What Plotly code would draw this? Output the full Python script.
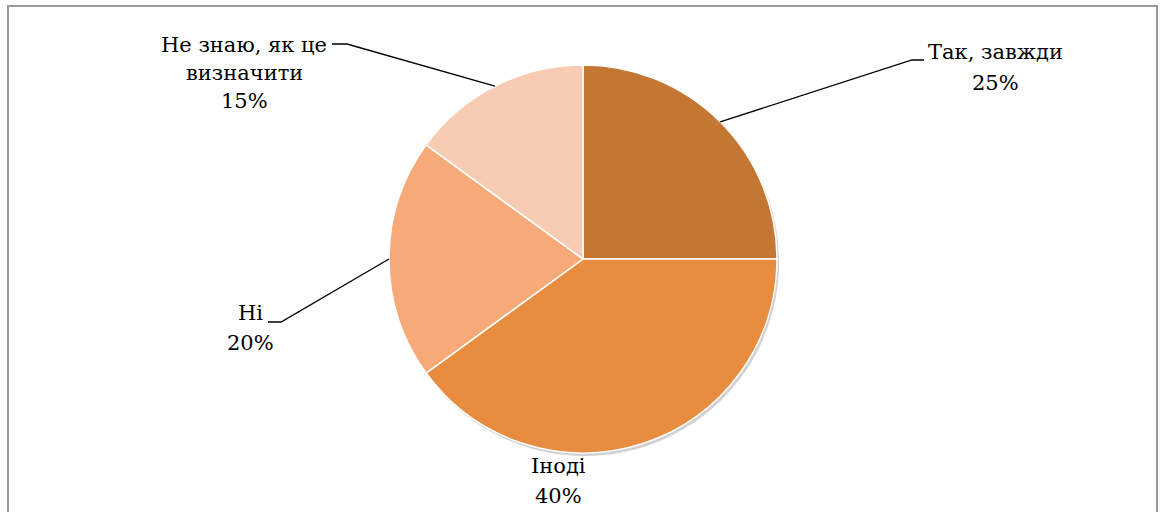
import math
import plotly.graph_objects as go

# ---- data ----
labels = ["Так, завжди", "Іноді", "Ні", "Не знаю, як це визначити"]
values = [25, 40, 20, 15]
label_lines = [["Так, завжди", "25%"], ["Іноді", "40%"], ["Ні", "20%"],
               ["Не знаю, як це", "визначити", "15%"]]
colors = ["#C47733", "#E88D40", "#F7AA78", "#F8CBB4"]

# ---- layout (pixels) ----
W, H = 1166, 512
CX, CY, R = 583, 259, 194
FONT = "DejaVu Serif"
# label centre x, first-line y, line spacing; elbow points for leader lines
label_pos = [
    dict(x=995, y=52, dy=31, elbow=(912, 60), end=(924, 60)),
    dict(x=558, y=466, dy=30, elbow=None, end=None),
    dict(x=250, y=313, dy=30, elbow=(281, 322), end=(268, 322)),
    dict(x=244, y=45, dy=28, elbow=(347, 44), end=(332, 44)),
]


def px(x):
    return x / W


def py(y):
    return 1 - y / H


fig = go.Figure()

# soft shadow behind pie
fig.add_trace(go.Pie(
    values=[1], labels=["s"], sort=False, textinfo="none", hoverinfo="skip",
    marker=dict(colors=["rgba(0,0,0,0.18)"], line=dict(width=0)),
    domain=dict(x=[px(CX - R + 2), px(CX + R + 2)], y=[py(CY + R + 3), py(CY - R + 3)]),
    showlegend=False,
))

fig.add_trace(go.Pie(
    labels=labels, values=values, sort=False, direction="clockwise", rotation=0,
    textinfo="none", hoverinfo="label+percent",
    marker=dict(colors=colors, line=dict(color="white", width=1.5)),
    domain=dict(x=[px(CX - R), px(CX + R)], y=[py(CY + R), py(CY - R)]),
    showlegend=False,
))

annotations = []
shapes = []
total = sum(values)
cum = 0
for v, lines, pos in zip(values, label_lines, label_pos):
    mid = (cum + v / 2) / total * 2 * math.pi
    cum += v
    ex = CX + R * math.sin(mid)
    ey = CY - R * math.cos(mid)
    for i, t in enumerate(lines):
        annotations.append(dict(
            x=px(pos["x"]), y=py(pos["y"] + i * pos["dy"]), xref="paper", yref="paper",
            text=t, showarrow=False, xanchor="center", yanchor="middle",
            font=dict(family=FONT, size=21, color="black"),
        ))
    if pos["elbow"]:
        path = "M {} {} L {} {} L {} {}".format(
            px(ex), py(ey), px(pos["elbow"][0]), py(pos["elbow"][1]),
            px(pos["end"][0]), py(pos["end"][1]))
        shapes.append(dict(type="path", path=path, xref="paper", yref="paper",
                           line=dict(color="black", width=1.3)))

# chart border
shapes.append(dict(type="rect", xref="paper", yref="paper",
                   x0=px(8), x1=px(1157), y0=py(530), y1=py(6),
                   line=dict(color="#999999", width=2), fillcolor="rgba(0,0,0,0)"))

fig.update_layout(
    width=W, height=H, margin=dict(l=0, r=0, t=0, b=0),
    paper_bgcolor="white", plot_bgcolor="white",
    font=dict(family=FONT),
    annotations=annotations, shapes=shapes, showlegend=False,
)

fig.write_html("out.html")
